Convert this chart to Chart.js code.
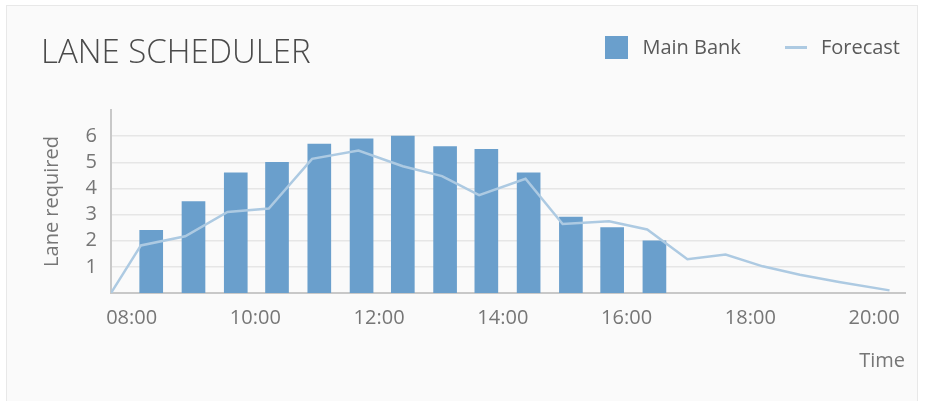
<!DOCTYPE html>
<html>
<head>
<meta charset="utf-8">
<script src="https://cdn.jsdelivr.net/npm/chart.js@4.4.1/dist/chart.umd.min.js"></script>
<style>
  html, body { margin: 0; padding: 0; background: #ffffff; }
  body { width: 925px; height: 401px; position: relative; overflow: hidden; font-family: "Open Sans", "Noto Sans", sans-serif; }
  .card { position: absolute; left: 6px; top: 5px; width: 912px; height: 420px; background: #fafafa; border: 1px solid #e8e8e8; box-sizing: border-box; }
  #chart { position: absolute; left: 0; top: 0; }
  .title { position: absolute; left: 41px; top: 34px; font-size: 33px; line-height: 33px; font-weight: 300; color: #4a4a4a; white-space: nowrap; }
  .legend { position: absolute; right: 25px; top: 35px; display: flex; align-items: center; font-size: 20px; line-height: 24px; color: #5a5a5a; white-space: nowrap; }
  .legend .item { display: flex; align-items: center; }
  .legend .item + .item { margin-left: 44px; }
  .legend .swatch { display: inline-block; margin-right: 14px; }
</style>
</head>
<body>
<div class="card"></div>
<canvas id="chart" width="925" height="401"></canvas>
<div class="title">LANE SCHEDULER</div>
<div class="legend" id="legend"></div>
<script>
// Times of the bars (Main Bank) and the forecast curve, as HH:MM
const barTimes = ['08:19', '09:00', '09:41', '10:21', '11:02', '11:43', '12:23', '13:04', '13:44', '14:25', '15:06', '15:46', '16:27'];
const mainBank = [2.4, 3.5, 4.6, 5.0, 5.7, 5.9, 6.0, 5.6, 5.5, 4.6, 2.9, 2.5, 2.0];

const forecastTimes = ['07:40', '08:09', '08:52', '09:33', '10:13', '10:55', '11:40', '12:23', '13:01', '13:37', '14:22', '14:58', '15:43', '16:20', '16:59', '17:36', '18:12', '18:48', '19:26', '20:15'];
const forecast = [0, 1.82, 2.17, 3.10, 3.23, 5.13, 5.45, 4.85, 4.47, 3.74, 4.37, 2.64, 2.74, 2.43, 1.29, 1.47, 1.02, 0.70, 0.42, 0.10];

const timeTicks = ['08:00', '10:00', '12:00', '14:00', '16:00', '18:00', '20:00'];
const laneTicks = [1, 2, 3, 4, 5, 6];

const timeRange = ['07:40', '20:30'];

const BAR_COLOR = '#6a9fcc';
const LINE_COLOR = '#adcae2';
const TEXT_COLOR = '#767676';
const FONT = '"Open Sans", "Noto Sans", sans-serif';

function toHours(t) {
  const [h, m] = t.split(':').map(Number);
  return h + m / 60;
}

const barPoints = barTimes.map((t, i) => ({ x: toHours(t), y: mainBank[i] }));
const forecastPoints = forecastTimes.map((t, i) => ({ x: toHours(t), y: forecast[i] }));

const chart = new Chart(document.getElementById('chart'), {
  type: 'bar',
  data: {
    datasets: [
      {
        type: 'line',
        label: 'Forecast',
        data: forecastPoints,
        borderColor: LINE_COLOR,
        backgroundColor: LINE_COLOR,
        borderWidth: 2.5,
        pointRadius: 0,
        tension: 0,
        order: 0
      },
      {
        type: 'bar',
        label: 'Main Bank',
        data: barPoints,
        backgroundColor: BAR_COLOR,
        borderWidth: 0,
        barThickness: 23,
        order: 1
      }
    ]
  },
  options: {
    responsive: false,
    animation: false,
    devicePixelRatio: 1,
    layout: { padding: { left: 0, top: 110, right: 20, bottom: 0 } },
    plugins: {
      legend: { display: false },
      tooltip: { enabled: false },
      title: { display: false }
    },
    scales: {
      x: {
        type: 'linear',
        offset: false,
        min: toHours(timeRange[0]),
        max: toHours(timeRange[1]),
        afterBuildTicks: (s) => { s.ticks = timeTicks.map(t => ({ value: toHours(t) })); },
        afterFit: (s) => { s.height = 108; },
        grid: { display: false, drawTicks: false },
        border: { display: true, color: '#c8c8c8', width: 2 },
        ticks: {
          autoSkip: false,
          maxRotation: 0,
          padding: 13,
          color: TEXT_COLOR,
          font: { family: FONT, size: 20 },
          callback: (v, i) => timeTicks[i]
        },
        title: {
          display: true,
          text: 'Time',
          align: 'end',
          color: TEXT_COLOR,
          font: { family: FONT, size: 20 },
          padding: { top: 0, bottom: 28 }
        }
      },
      y: {
        min: 0,
        max: 7,
        afterBuildTicks: (s) => { s.ticks = laneTicks.map(v => ({ value: v })); },
        afterFit: (s) => { s.width = 111; },
        grid: { color: '#e6e6e6', lineWidth: 1.5, drawTicks: false },
        border: { display: true, color: '#c8c8c8', width: 2 },
        ticks: {
          padding: 14,
          color: TEXT_COLOR,
          font: { family: FONT, size: 20 }
        },
        title: {
          display: true,
          text: 'Lane required',
          color: TEXT_COLOR,
          font: { family: FONT, size: 20 },
          padding: { top: 40, bottom: 0 }
        }
      }
    }
  }
});

// Legend built from the chart's own datasets
const legendEl = document.getElementById('legend');
['Main Bank', 'Forecast'].forEach(name => {
  const ds = chart.data.datasets.find(d => d.label === name);
  const item = document.createElement('div');
  item.className = 'item';
  const sw = document.createElement('span');
  sw.className = 'swatch';
  if (ds.type === 'line') {
    sw.style.width = '22px';
    sw.style.height = '3px';
    sw.style.background = ds.borderColor;
  } else {
    sw.style.width = '23px';
    sw.style.height = '23px';
    sw.style.background = ds.backgroundColor;
  }
  const txt = document.createElement('span');
  txt.textContent = ds.label;
  item.appendChild(sw);
  item.appendChild(txt);
  legendEl.appendChild(item);
});
</script>
</body>
</html>
